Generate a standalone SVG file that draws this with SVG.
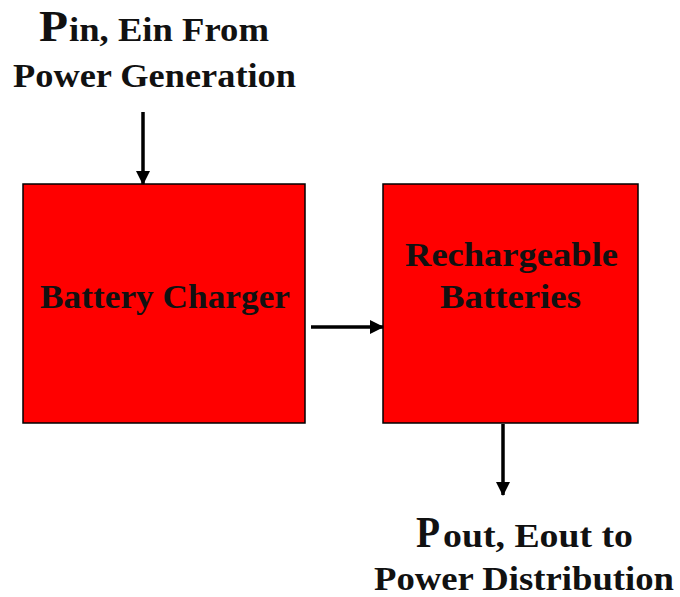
<svg xmlns="http://www.w3.org/2000/svg" width="680" height="597" viewBox="0 0 680 597">
<style>
.box{fill:#ff0000;stroke:#000;stroke-width:1.5}
.t{font-family:"Liberation Serif","Times New Roman",serif;font-weight:bold;font-size:34px;fill:#111}
.big{font-size:45px}
.c{stroke:#000;stroke-width:3.5;fill:none}
</style>
<defs>
<marker id="ah" markerWidth="14" markerHeight="14" refX="13" refY="7" orient="auto" markerUnits="userSpaceOnUse" viewBox="0 0 14 14">
<path d="M0,0 L14,7 L0,14 Z" fill="#000"/>
</marker>
</defs>
<g id="label-in">
<text class="t big" x="39" y="41" textLength="29" lengthAdjust="spacingAndGlyphs">P</text>
<text class="t" x="69" y="41" textLength="200" lengthAdjust="spacingAndGlyphs">in, Ein From</text>
<text class="t" x="13" y="87" textLength="283" lengthAdjust="spacingAndGlyphs">Power Generation</text>
</g>
<g id="charger">
<rect class="box" x="23" y="184" width="282" height="239"/>
<text class="t" x="40" y="308" textLength="250" lengthAdjust="spacingAndGlyphs">Battery Charger</text>
</g>
<g id="batteries">
<rect class="box" x="383" y="184" width="255" height="239"/>
<text class="t" x="405" y="266" textLength="213" lengthAdjust="spacingAndGlyphs">Rechargeable</text>
<text class="t" x="440" y="308" textLength="141" lengthAdjust="spacingAndGlyphs">Batteries</text>
</g>
<g id="label-out">
<text class="t big" x="416" y="547" textLength="24" lengthAdjust="spacingAndGlyphs">P</text>
<text class="t" x="443" y="547" textLength="190" lengthAdjust="spacingAndGlyphs">out, Eout to</text>
<text class="t" x="374" y="590" textLength="300" lengthAdjust="spacingAndGlyphs">Power Distribution</text>
</g>
<g id="connectors">
<line class="c" x1="143" y1="112" x2="143" y2="184" marker-end="url(#ah)"/>
<line class="c" x1="311" y1="327" x2="383" y2="327" marker-end="url(#ah)"/>
<line class="c" x1="503" y1="424" x2="503" y2="495" marker-end="url(#ah)"/>
</g>
</svg>
